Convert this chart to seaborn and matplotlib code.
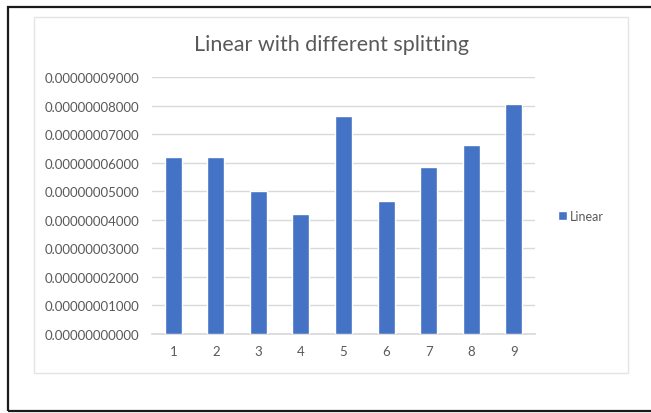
import matplotlib
matplotlib.use("Agg")
import matplotlib.pyplot as plt
import seaborn as sns
import pandas as pd
from matplotlib.patches import Rectangle
from matplotlib.ticker import FuncFormatter, MultipleLocator

categories = ["1", "2", "3", "4", "5", "6", "7", "8", "9"]
linear = [6.2e-8, 6.2e-8, 5.0e-8, 4.2e-8, 7.62e-8, 4.65e-8, 5.85e-8, 6.62e-8, 8.06e-8]
series_name = "Linear"
title = "Linear with different splitting"

df = pd.DataFrame({"split": categories, "value": linear, "series": series_name})

sns.set_theme(style="white")
plt.rcParams["font.family"] = ["Lato", "DejaVu Sans"]

W, H = 651, 414
fig = plt.figure(figsize=(W / 100, H / 100), dpi=100)
fig.patch.set_facecolor("white")

def fx(x):
    return x / W

def fy(y):
    return 1 - y / H

# frames
fig.patches.append(Rectangle((fx(7.5), fy(411.5)), fx(660 - 7.5), fy(7.5) - fy(411.5),
                             transform=fig.transFigure, fill=False, edgecolor="#1a1a1a",
                             linewidth=1.6, zorder=0))
fig.patches.append(Rectangle((fx(34), fy(374)), fx(628 - 34), fy(18) - fy(374),
                             transform=fig.transFigure, fill=False, edgecolor="#e4e4e4",
                             linewidth=1.0, zorder=0))

ax = fig.add_axes([fx(152), fy(335), fx(535 - 152), fy(78) - fy(335)])
sns.barplot(data=df, x="split", y="value", hue="series", palette=["#4472C4"],
            width=0.4, ax=ax, saturation=1, legend=True, zorder=3)

ax.set_ylim(0, 9e-8)
ax.yaxis.set_major_locator(MultipleLocator(1e-8))
ax.yaxis.set_major_formatter(FuncFormatter(lambda v, p: f"{v:.11f}"))
ax.grid(axis="y", color="#d9d9d9", linewidth=1.0, zorder=0)
ax.set_axisbelow(True)
for s in ["top", "right", "left"]:
    ax.spines[s].set_visible(False)
ax.spines["bottom"].set_color("#d9d9d9")
ax.tick_params(axis="y", length=0, pad=9, labelsize=9.5, labelcolor="#595959")
ax.tick_params(axis="x", length=0, pad=8, labelsize=9.5, labelcolor="#595959")
ax.set_xlabel("")
ax.set_ylabel("")
ax.set_facecolor("none")

leg = ax.legend(loc="center left", bbox_to_anchor=(fx(552 - 152) / fx(535 - 152), 0.46),
                frameon=False, fontsize=9, handlelength=0.7, handleheight=0.7,
                handletextpad=0.2, borderpad=0)
for t in leg.get_texts():
    t.set_color("#595959")

fig.text(fx(332), fy(45), title, ha="center", va="center", fontsize=15.5, color="#595959")

fig.savefig("out.png", dpi=100, facecolor="white")
